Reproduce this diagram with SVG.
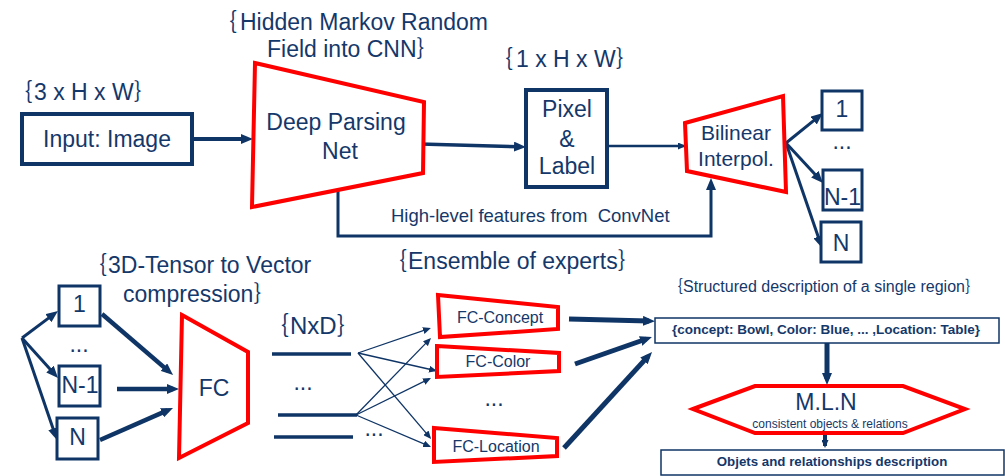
<svg xmlns="http://www.w3.org/2000/svg" width="1005" height="476" viewBox="0 0 1005 476">
<style>
text{font-family:"Liberation Sans",Arial,"Noto Sans CJK SC",sans-serif;fill:#15386a}
.t23{font-size:23px}
.mid{text-anchor:middle}
.br{font-family:"Noto Sans CJK SC","Noto Sans CJK JP",sans-serif;fill:#15386a}
.box{fill:#fff;stroke:#0f3566;stroke-width:4}
.sbox{fill:#fff;stroke:#0f3566;stroke-width:3}
.tbox{fill:#fff;stroke:#0f3566;stroke-width:1.5}
.red{fill:#fff;stroke:#ff0000;stroke-width:4;stroke-linejoin:miter}
.ln{fill:none;stroke:#0f3566;stroke-linecap:butt}
.bold{font-weight:bold}
</style>
<defs>
<marker id="arrA" viewBox="0 0 12 10" markerUnits="userSpaceOnUse" markerWidth="12" markerHeight="10" refX="6" refY="5" orient="auto"><path d="M0,0 L12,5 L0,10 z" fill="#0f3566"/></marker>
<marker id="arrB" viewBox="0 0 8 7" markerUnits="userSpaceOnUse" markerWidth="8" markerHeight="7" refX="6" refY="3.5" orient="auto"><path d="M0,0 L8,3.5 L0,7 z" fill="#0f3566"/></marker>
</defs>

<g id="connectors">
<line class="ln" x1="192" y1="139" x2="247" y2="139" stroke-width="4" marker-end="url(#arrA)"/>
<line class="ln" x1="420" y1="144" x2="520" y2="146.8" stroke-width="3.5" marker-end="url(#arrA)"/>
<line class="ln" x1="607" y1="146" x2="684" y2="146" stroke-width="2.5" marker-end="url(#arrB)"/>
<path class="ln" d="M338,190 V236 H711 V184" stroke-width="3" marker-end="url(#arrA)"/>
<line class="ln" x1="786" y1="143" x2="818.3" y2="116.8" stroke-width="3" marker-end="url(#arrA)"/>
<line class="ln" x1="786" y1="143" x2="818.9" y2="178.6" stroke-width="3" marker-end="url(#arrA)"/>
<line class="ln" x1="786" y1="143" x2="820.1" y2="242.3" stroke-width="3" marker-end="url(#arrA)"/>
<line class="ln" x1="22" y1="338" x2="53.2" y2="314.6" stroke-width="3" marker-end="url(#arrA)"/>
<line class="ln" x1="22" y1="338" x2="54" y2="373.5" stroke-width="3" marker-end="url(#arrA)"/>
<line class="ln" x1="22" y1="338" x2="55" y2="434.3" stroke-width="3" marker-end="url(#arrA)"/>
<line class="ln" x1="102" y1="314" x2="168.5" y2="371.1" stroke-width="4.5" marker-end="url(#arrA)"/>
<line class="ln" x1="117" y1="389" x2="173" y2="389" stroke-width="4.5" marker-end="url(#arrA)"/>
<line class="ln" x1="100" y1="440" x2="167.5" y2="410.4" stroke-width="4.5" marker-end="url(#arrA)"/>
<line class="ln" x1="272" y1="354" x2="351" y2="354" stroke-width="3.5"/>
<line class="ln" x1="278" y1="415" x2="357" y2="415" stroke-width="3.5"/>
<line class="ln" x1="274" y1="437" x2="353" y2="437" stroke-width="3.5"/>
<line class="ln" x1="358" y1="353" x2="429" y2="328.7" stroke-width="1.3" marker-end="url(#arrB)"/>
<line class="ln" x1="358" y1="353" x2="435" y2="370.5" stroke-width="1.3" marker-end="url(#arrB)"/>
<line class="ln" x1="358" y1="353" x2="429.8" y2="437.4" stroke-width="1.3" marker-end="url(#arrB)"/>
<line class="ln" x1="356" y1="415" x2="429.6" y2="339.4" stroke-width="1.3" marker-end="url(#arrB)"/>
<line class="ln" x1="356" y1="415" x2="429.2" y2="378.9" stroke-width="1.3" marker-end="url(#arrB)"/>
<line class="ln" x1="356" y1="415" x2="429.2" y2="446.2" stroke-width="1.3" marker-end="url(#arrB)"/>
<line class="ln" x1="569" y1="319" x2="649" y2="321" stroke-width="5" marker-end="url(#arrA)"/>
<line class="ln" x1="575" y1="364" x2="646.3" y2="339" stroke-width="5" marker-end="url(#arrA)"/>
<line class="ln" x1="564" y1="448" x2="648" y2="356.4" stroke-width="5" marker-end="url(#arrA)"/>
<line class="ln" x1="827" y1="343" x2="827" y2="379" stroke-width="5" marker-end="url(#arrA)"/>
<line class="ln" x1="825" y1="433" x2="825" y2="446" stroke-width="4" marker-end="url(#arrB)"/>
</g>

<g id="input">
<rect class="box" x="22" y="114" width="170" height="50"/>
<text class="t23 mid" x="107" y="147">Input: Image</text>
<text class="t23" y="100"><tspan class="br" x="9.5">｛</tspan><tspan x="34">3 x H x W</tspan><tspan class="br">｝</tspan></text>
</g>

<g id="deep-parsing-net">
<polygon class="red" points="255,63 424,102 423,173 252,207"/>
<text class="t23 mid" x="336" y="130">Deep Parsing</text>
<text class="t23 mid" x="340" y="159">Net</text>
<text class="t23" y="30"><tspan class="br" x="214">｛</tspan><tspan x="240">Hidden Markov Random</tspan></text>
<text class="t23" y="57"><tspan x="267">Field into CNN</tspan><tspan class="br">｝</tspan></text>
</g>

<g id="pixel-label">
<rect class="box" x="526" y="90" width="81" height="97"/>
<text class="t23 mid" x="567" y="117">Pixel</text>
<text class="t23 mid" x="567" y="147">&amp;</text>
<text class="t23 mid" x="567" y="174">Label</text>
<text class="t23" y="67"><tspan class="br" x="490">｛</tspan><tspan x="516">1 x H x W</tspan><tspan class="br">｝</tspan></text>
</g>

<g id="bilinear">
<polygon class="red" points="685,123 783,96 786,192 687,171" stroke-width="3.5"/>
<text class="mid" x="736" y="140" font-size="21">Bilinear</text>
<text class="mid" x="736" y="166" font-size="21">Interpol.</text>
</g>

<g id="hl-label">
<text x="391" y="222" font-size="18.5" style="white-space:pre">High-level features from  ConvNet</text>
</g>

<g id="top-out-1">
<rect class="sbox" x="822" y="91" width="40" height="39"/>
<text class="t23 mid" x="842" y="117">1</text>
</g>
<g id="top-out-dots"><text class="t23 mid" x="842" y="149">...</text></g>
<g id="top-out-n1">
<rect class="sbox" x="823" y="170" width="39" height="40"/>
<text class="t23 mid" x="842.5" y="205">N-1</text>
</g>
<g id="top-out-n">
<rect class="sbox" x="821" y="222" width="40" height="40"/>
<text class="t23 mid" x="841" y="251">N</text>
</g>

<g id="bot-in-1">
<rect class="sbox" x="59" y="286" width="41" height="40"/>
<text class="t23 mid" x="79.5" y="312">1</text>
</g>
<g id="bot-in-dots"><text class="t23 mid" x="79" y="352">...</text></g>
<g id="bot-in-n1">
<rect class="sbox" x="59" y="366" width="41" height="40"/>
<text class="t23 mid" x="80" y="393">N-1</text>
</g>
<g id="bot-in-n">
<rect class="sbox" x="57" y="418" width="41" height="41"/>
<text class="t23 mid" x="77.5" y="445">N</text>
</g>

<g id="fc">
<polygon class="red" points="182,315 248,352 248,423 179,458"/>
<text class="t23 mid" x="214" y="396">FC</text>
<text class="t23" y="273"><tspan class="br" x="84">｛</tspan><tspan x="108">3D-Tensor to Vector</tspan></text>
<text class="t23" y="302"><tspan x="123">compression</tspan><tspan class="br">｝</tspan></text>
</g>

<g id="nxd">
<text font-size="24" y="334"><tspan class="br" x="265">｛</tspan><tspan x="290">NxD</tspan><tspan class="br">｝</tspan></text>
<text class="t23 mid" x="303" y="390">...</text>
<text class="t23 mid" x="374" y="436">...</text>
</g>

<g id="experts-label">
<text class="t23" y="269"><tspan class="br" x="384">｛</tspan><tspan x="408">Ensemble of experts</tspan><tspan class="br">｝</tspan></text>
<text class="t23 mid" x="494" y="406">...</text>
</g>

<g id="fc-concept">
<polygon class="red" points="438,295 558,307 558,329 440,337"/>
<text class="mid" x="500" y="323" font-size="16">FC-Concept</text>
</g>
<g id="fc-color">
<polygon class="red" points="437,346 559,353 559,371 437,377"/>
<text class="mid" x="498" y="367" font-size="16">FC-Color</text>
</g>
<g id="fc-location">
<polygon class="red" points="434,428 557,438 557,456 434,462"/>
<text class="mid" x="496" y="452" font-size="16">FC-Location</text>
</g>

<g id="structured">
<text font-size="16" y="292"><tspan class="br" x="667">｛</tspan><tspan x="683">Structured description of a single region</tspan><tspan class="br">｝</tspan></text>
<rect class="tbox" x="655" y="318" width="344" height="25"/>
<text class="mid bold" x="826" y="334" font-size="13.5">{concept: Bowl, Color: Blue, ... ,Location: Table}</text>
</g>

<g id="mln">
<polygon class="red" points="693,409 755,386 903,386 965,409 903,433 755,433" stroke-width="3"/>
<text class="t23 mid" x="826" y="410">M.L.N</text>
<text class="mid" x="830" y="428" font-size="12">consistent objects &amp; relations</text>
</g>

<g id="output">
<rect class="tbox" x="661" y="450" width="343" height="25"/>
<text class="mid bold" x="832" y="466" font-size="13.3">Objets and relationships description</text>
</g>
</svg>
